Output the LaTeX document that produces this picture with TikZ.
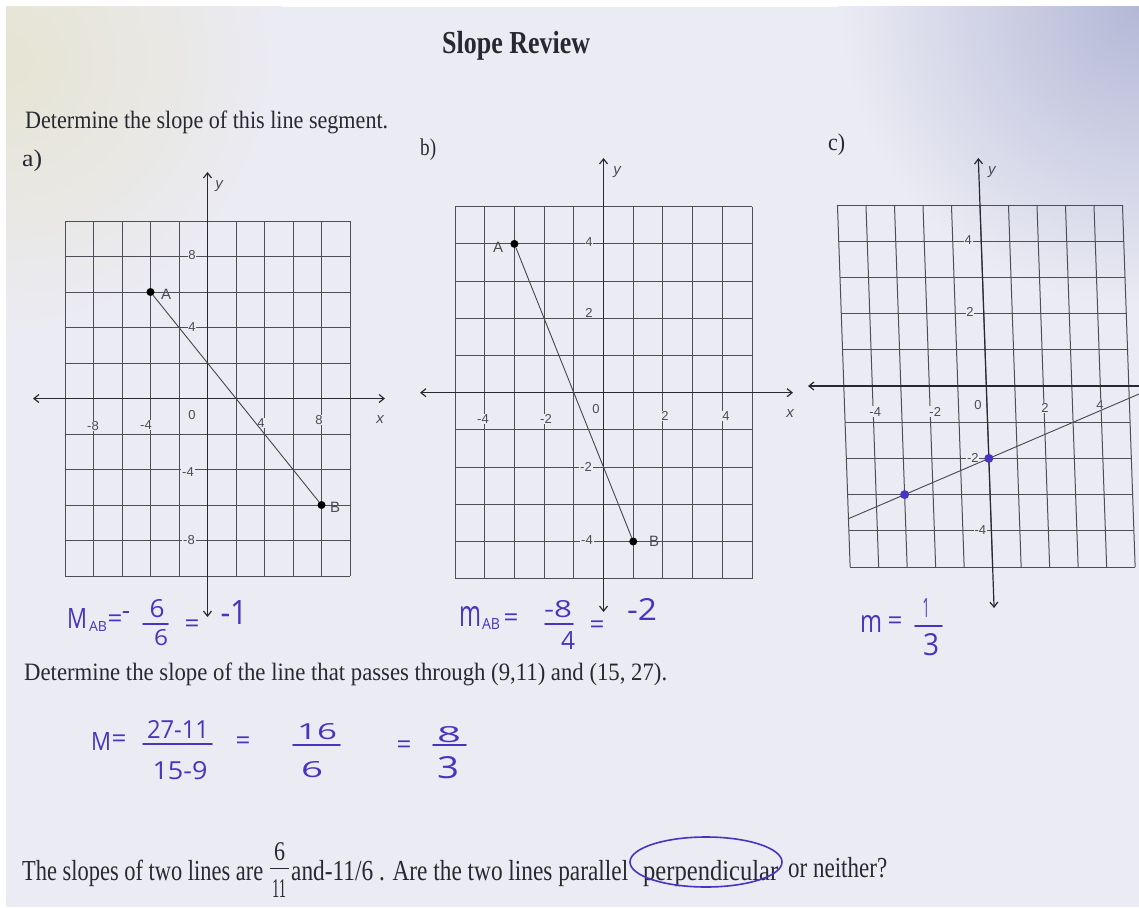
\documentclass[tikz,border=0pt]{standalone}
\usepackage{fontspec}
\setmainfont{Liberation Serif}
\newfontfamily\lab{Liberation Sans}
\newfontfamily\hand{Open Sans}
\usepackage{graphicx}
\usetikzlibrary{arrows.meta}

\definecolor{paper}{RGB}{235,235,244}
\definecolor{cornerb}{RGB}{180,184,214}
\definecolor{cornery}{RGB}{230,228,210}
\definecolor{ink}{RGB}{40,40,50}
\definecolor{gridc}{RGB}{78,78,88}
\definecolor{axc}{RGB}{40,40,50}
\definecolor{segc}{RGB}{70,70,80}
\definecolor{labc}{RGB}{75,75,85}
\definecolor{pen}{RGB}{72,52,190}

\newcommand\fitw[2]{\resizebox{#1pt}{\height}{#2}}
\newcommand\fitwh[3]{\resizebox{#1pt}{#2pt}{#3}}

\begin{document}
\begin{tikzpicture}[x=1pt,y=-1pt,
  gl/.style={draw=gridc, line width=1pt},
  ax/.style={draw=axc, line width=1.2pt, {Straight Barb[length=5pt,width=8pt]}-{Straight Barb[length=5pt,width=8pt]}},
  tk/.style={inner sep=0.8pt, fill=paper, text=labc, font=\lab\fontsize{13}{13}\selectfont},
  ptl/.style={inner sep=0.5pt, text=labc, font=\lab\fontsize{15}{15}\selectfont},
  axl/.style={inner sep=0, text=labc, font=\lab\itshape\fontsize{15}{15}\selectfont},
  dot/.style={circle, fill=black, inner sep=0, minimum size=8pt},
  pdot/.style={circle, fill=pen, inner sep=0, minimum size=9pt},
  seg/.style={draw=segc, line width=0.9pt},
  prt/.style={anchor=base west, inner sep=0, text=ink},
  hw/.style={inner sep=0, text=pen, font=\hand\fontsize{24}{24}\selectfont},
  hweq/.style={inner sep=0, text=pen, font=\hand\fontsize{26}{26}\selectfont},
  hwl/.style={draw=pen, line width=1.6pt, line cap=round}]

% ---------- paper ----------
\useasboundingbox (0,0) rectangle (1139,907);
\fill[white] (0,0) rectangle (1139,907);
\fill[paper] (6,7) rectangle (1139,907);
\begin{scope}
  \clip (6,7) rectangle (1139,907);
  \shade[inner color=cornerb, outer color=paper] (1139,7) circle (300);
  \shade[inner color=cornery, outer color=paper] (6,60) circle (280);
\end{scope}

% ---------- printed text ----------
\node[prt, font=\bfseries\fontsize{32}{32}\selectfont] (title) at (442,53) {\fitw{148}{Slope Review}};
\node[prt, font=\fontsize{25}{25}\selectfont] (q1) at (25,128) {\fitw{363}{Determine the slope of this line segment.}};
\node[prt, font=\fontsize{24}{24}\selectfont] (la) at (22,166) {\fitw{20}{a)}};
\node[prt, font=\fontsize{24}{24}\selectfont] (lb) at (420,155) {\fitw{16}{b)}};
\node[prt, font=\fontsize{24}{24}\selectfont] (lc) at (828,150) {\fitw{17}{c)}};
\node[prt, font=\fontsize{25}{25}\selectfont] (q2) at (24,680) {\fitw{643}{Determine the slope of the line that passes through (9,11) and (15, 27).}};

% bottom line
\node[prt, font=\fontsize{29}{29}\selectfont] (q3a) at (22,880) {\fitw{241}{The slopes of two lines are}};
\node[prt, font=\fontsize{27}{27}\selectfont] (f6) at (274,860) {\fitw{11}{6}};
\node[prt, font=\fontsize{27}{27}\selectfont] (f11) at (272,897) {\fitw{14}{11}};
\draw[draw=ink, line width=1pt] (270,868) -- (289,868);
\node[prt, font=\fontsize{29}{29}\selectfont] (q3b) at (291,880) {\fitw{337}{and-11/6 . Are the two lines parallel}};
\node[prt, font=\fontsize{29}{29}\selectfont] (q3c) at (643,880) {\fitw{135}{perpendicular}};
\node[prt, font=\fontsize{29}{29}\selectfont] (q3d) at (788,877) {\fitw{99}{or neither?}};
\draw[hwl] (706,862) ellipse [x radius=76, y radius=25];

% ---------- graph a ----------
\foreach \i in {0,...,10}{
  \draw[gl] ({65+28.5*\i},221) -- ({65+28.5*\i},576);
  \draw[gl] (65,{221+35.5*\i}) -- (350,{221+35.5*\i});
}
\draw[ax] (33,398.5) -- (385,398.5);
\draw[ax] (207.5,617) -- (207.5,172);
\node[tk] at (93,426) {-8};
\node[tk] at (146,425) {-4};
\node[tk] at (192,415) {0};
\node[tk] at (261,423) {4};
\node[tk] at (319,420) {8};
\node[axl] at (380,420) {x};
\node[tk] at (192,255) {8};
\node[tk] at (192,327) {4};
\node[tk] at (188,472) {-4};
\node[tk] at (189,540) {-8};
\node[axl] at (219,186) {y};
\node[dot] (aA) at (150.5,292) {};
\node[dot] (aB) at (321.5,505) {};
\draw[seg] (aA) -- (aB);
\node[ptl] at (166,294) {A};
\node[ptl] at (335,507) {B};

% ---------- graph b ----------
\foreach \i in {0,...,10}{
  \draw[gl] ({455+29.7*\i},206.7) -- ({455+29.7*\i},578.7);
  \draw[gl] (455,{206.7+37.2*\i}) -- (752,{206.7+37.2*\i});
}
\draw[ax] (420,392.7) -- (793,392.7);
\draw[ax] (603.5,612) -- (603.5,158);
\node[tk] at (483,419) {-4};
\node[tk] at (546,419) {-2};
\node[tk] at (596,409) {0};
\node[tk] at (665,416) {2};
\node[tk] at (726,416) {4};
\node[axl] at (790,414) {x};
\node[tk] at (589,242) {4};
\node[tk] at (589,313) {2};
\node[tk] at (586,467) {-2};
\node[tk] at (587,540) {-4};
\node[axl] at (617,172) {y};
\node[dot] (bA) at (514.4,243.9) {};
\node[dot] (bB) at (633.2,541.5) {};
\draw[seg] (bA) -- (bB);
\node[ptl] at (498,247) {A};
\node[ptl] at (654,541) {B};

% ---------- graph c ----------
\begin{scope}[shift={(986.3,386)}, xslant=-0.035]
  \foreach \i in {0,...,10}{
    \draw[gl] ({-142.5+28.5*\i},-181) -- ({-142.5+28.5*\i},181);
    \draw[gl] (-142.5,{-181+36.2*\i}) -- (142.5,{-181+36.2*\i});
  }
  \draw[ax] (-178.3,0) -- (175,0);
  \draw[ax] (0,222) -- (0,-228);
  \node[tk] at (-112,25.7) {-4};
  \node[tk] at (-52,25.7) {-2};
  \node[tk] at (-9,19) {0};
  \node[tk] at (58,22) {2};
  \node[tk] at (113,19) {4};
  \node[tk] at (-13,-146) {4};
  \node[tk] at (-13.7,-74.3) {2};
  \node[tk] at (-16,72) {-2};
  \node[tk] at (-11,144) {-4};
  \node[axl] at (13,-214) {y};
  \coordinate (cL) at (-142.5,132.7);
  \coordinate (cR) at (160,4.8);
  \draw[seg] (cL) -- (cR);
  \node[pdot] (c1) at (-85.5,108.6) {};
  \node[pdot] (c2) at (0,72.4) {};
\end{scope}

% ---------- handwriting ----------
% a
\node[hw] (ma) at (77,618) {\fitwh{20}{20}{M}};
\node[hw] at (98,626) {\fitwh{18}{10}{AB}};
\node[hweq] at (115,621) {=};
\node[hweq] at (126,616) {-};
\node[hw] at (157,609) {\fitwh{15}{18}{6}};
\draw[hwl] (143,624) -- (168,624);
\node[hw] at (161,638) {\fitwh{14}{16}{6}};
\node[hweq] at (192,626) {=};
\node[hw] at (234,612) {\fitwh{27}{24}{-1}};
% b
\node[hw] (mb) at (470,616) {\fitwh{22}{20}{m}};
\node[hw] at (491,624) {\fitwh{18}{11}{AB}};
\node[hweq] at (511,620) {=};
\node[hw] at (558,609) {\fitwh{28}{17}{-8}};
\draw[hwl] (545,624) -- (573,624);
\node[hw] at (568,640) {\fitwh{14}{18}{4}};
\node[hweq] at (597,627) {=};
\node[hw] at (642,609) {\fitwh{30}{22}{-2}};
% c
\node[hw] (mc) at (871,624) {\fitwh{22}{17}{m}};
\node[hweq] at (895,623) {=};
\node[hw] at (926,608) {\fitwh{7}{19}{1}};
\draw[hwl] (915,626) -- (942,626);
\node[hw] at (931,645) {\fitwh{16}{22}{3}};
% middle
\node[hw] (mm) at (101,741) {\fitwh{20}{18}{M}};
\node[hweq] at (119,741) {=};
\node[hw] at (178,729) {\fitwh{62}{18}{27-11}};
\draw[hwl] (143,744) -- (212,744);
\node[hw] at (180,771) {\fitwh{55}{18}{15-9}};
\node[hweq] at (243,743) {=};
\node[hw] at (317,732) {\fitwh{40}{16}{16}};
\draw[hwl] (293,745) -- (340,745);
\node[hw] at (312,770) {\fitwh{22}{16}{6}};
\node[hweq] at (404,747) {=};
\node[hw] at (449,735) {\fitwh{24}{16}{8}};
\draw[hwl] (433,745) -- (466,745);
\node[hw] at (448,768) {\fitwh{22}{22}{3}};
\end{tikzpicture}
\end{document}
